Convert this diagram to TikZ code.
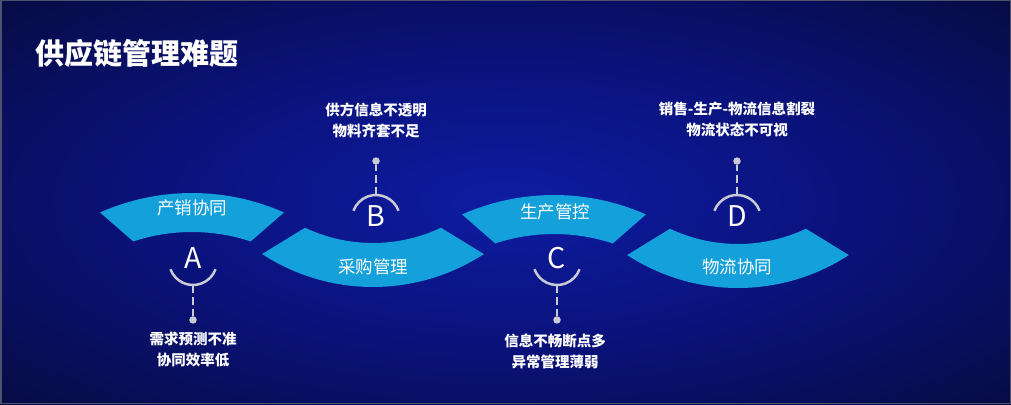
\documentclass[tikz,border=0pt]{standalone}
\usepackage{fontspec}
\setmainfont{Noto Sans CJK SC}
\usetikzlibrary{positioning,calc}
\definecolor{deep}{RGB}{6,9,48}
\definecolor{mid}{RGB}{10,18,122}
\definecolor{glow}{RGB}{14,28,162}
\definecolor{frame}{RGB}{78,82,108}
\definecolor{bandblue}{RGB}{20,160,218}
\definecolor{leadgrey}{RGB}{200,202,214}
\pgfdeclareradialshading{bgglow}{\pgfpoint{0bp}{0bp}}{%
  color(0bp)=(glow); color(18bp)=(mid); color(42bp)=(deep); color(50bp)=(deep)}
\tikzset{
  band/.style={fill=bandblue},
  bandlbl/.style={text=white,inner sep=0pt,font=\fontsize{17.5}{20}\selectfont},
  letter/.style={circle,minimum size=48pt,inner sep=0pt,outer sep=0pt,
    text=white,text height=21pt,text depth=6pt,font=\fontsize{28.5}{30}\selectfont},
  capline/.style={draw=leadgrey,line width=2.5pt},
  lead/.style={draw=leadgrey,line width=2.5pt,dash pattern=on 8pt off 4pt},
  pindot/.style={circle,fill=leadgrey,minimum size=7.5pt,inner sep=0pt},
  note/.style={text=white,inner sep=0pt,align=center,
    font=\bfseries\fontsize{14.5}{21}\selectfont},
  headline/.style={text=white,inner sep=0pt,anchor=west,
    font=\bfseries\fontsize{29}{32}\selectfont},
}
\begin{document}
\begin{tikzpicture}[x=1pt,y=1pt]
  \useasboundingbox (0,0) rectangle (1011,-404);
  % backdrop
  \shade[shading=bgglow] (0,0) rectangle (1011,-404);
  \draw[frame,line width=1.5pt] (0.75,-0.75) rectangle (1010.25,-403.25);
  \node[headline] (head) at (35,-53) {供应链管理难题};

  % the four curved bands
  \fill[band] ([shift={(192,-420)}]113.9:227) arc[start angle=113.9,end angle=66.1,radius=227]
    -- ([shift={(192,-420)}]71.8:188) arc[start angle=71.8,end angle=108.2,radius=188] -- cycle;
  \fill[band] ([shift={(373,-84)}]236.9:203) arc[start angle=236.9,end angle=303.1,radius=203]
    -- ([shift={(373,-84)}]295.3:159) arc[start angle=295.3,end angle=244.7,radius=159] -- cycle;
  \fill[band] ([shift={(554,-422)}]113.9:227) arc[start angle=113.9,end angle=66.1,radius=227]
    -- ([shift={(554,-422)}]71.8:188) arc[start angle=71.8,end angle=108.2,radius=188] -- cycle;
  \fill[band] ([shift={(738,-85)}]236.9:203) arc[start angle=236.9,end angle=303.1,radius=203]
    -- ([shift={(738,-85)}]295.3:159) arc[start angle=295.3,end angle=244.7,radius=159] -- cycle;

  \node[bandlbl] (lblA) at (192,-208) {产销协同};
  \node[bandlbl] (lblB) at (373,-267) {采购管理};
  \node[bandlbl] (lblC) at (555,-212) {生产管控};
  \node[bandlbl] (lblD) at (737,-267) {物流协同};

  % letters with their caps and leads
  \node[letter] (A) at (193,-261) {A};
  \node[letter] (B) at (376,-219) {B};
  \node[letter] (C) at (557,-261) {C};
  \node[letter] (D) at (737,-219) {D};
  \draw[capline] (A.200) arc[start angle=200,end angle=340,radius=24];
  \draw[capline] (C.200) arc[start angle=200,end angle=340,radius=24];
  \draw[capline] (B.20) arc[start angle=20,end angle=160,radius=24];
  \draw[capline] (D.20) arc[start angle=20,end angle=160,radius=24];

  \node[pindot,below=31pt of A] (pinA) {};
  \node[pindot,above=30pt of B] (pinB) {};
  \node[pindot,below=31pt of C] (pinC) {};
  \node[pindot,above=30pt of D] (pinD) {};
  \draw[lead] (A.south) -- (pinA);
  \draw[lead] (B.north) -- (pinB);
  \draw[lead] (C.south) -- (pinC);
  \draw[lead] (D.north) -- (pinD);

  \node[note] (noteA) at (193,-349.5) {需求预测不准\\协同效率低};
  \node[note] (noteB) at (376,-120) {供方信息不透明\\物料齐套不足};
  \node[note] (noteC) at (555,-351) {信息不畅断点多\\异常管理薄弱};
  \node[note] (noteD) at (737,-119.5) {销售-生产-物流信息割裂\\物流状态不可视};
\end{tikzpicture}
\end{document}
